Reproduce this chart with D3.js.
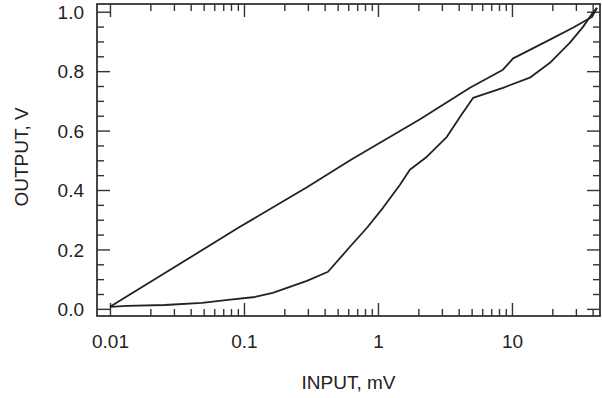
<!DOCTYPE html>
<html>
<head>
<meta charset="utf-8">
<script src="https://cdn.jsdelivr.net/npm/d3@7"></script>
<style>
  body { margin: 0; background: #fff; }
  svg text { font-family: "Liberation Sans", Arial, sans-serif; fill: #222; }
</style>
</head>
<body>
<svg id="chart" width="602" height="398"></svg>
<script>
// upward branch (near-linear in log x)
const upIn  = [0.01, 0.0933, 0.295, 0.629, 2.06, 4.86, 8.57, 10.2, 12.1, 19.2, 28.5, 36.3, 39.5, 43.1];
const upOut = [0.007, 0.276, 0.409, 0.502, 0.638, 0.744, 0.805, 0.843, 0.860, 0.906, 0.946, 0.973, 0.982, 1.013];

// lower branch
const loIn  = [0.01, 0.0134, 0.0257, 0.0486, 0.076, 0.121, 0.164, 0.295, 0.424, 0.618, 0.828, 1.09, 1.46, 1.73, 2.32, 3.27, 4.09, 5.12, 8.57, 13.6, 19.2, 27.1, 33.9, 40.2, 43.1];
const loOut = [0.007, 0.010, 0.013, 0.020, 0.030, 0.040, 0.054, 0.094, 0.125, 0.209, 0.273, 0.340, 0.418, 0.468, 0.512, 0.579, 0.646, 0.710, 0.744, 0.778, 0.828, 0.896, 0.949, 0.997, 1.013];

const xTicks = [0.01, 0.1, 1, 10];
const xTickLabels = ["0.01", "0.1", "1", "10"];
const yTicks = [0, 0.2, 0.4, 0.6, 0.8, 1.0];
const yTickLabels = ["0.0", "0.2", "0.4", "0.6", "0.8", "1.0"];

const svg = d3.select("#chart");
const mLeft = 97, mRight = 600, mTop = 4, mBottom = 316;

const x = d3.scaleLog().domain([0.008, 45.4]).range([mLeft, mRight]);
const y = d3.scaleLinear().domain([-0.024, 1.026]).range([mBottom, mTop]);

const xMinor = x.ticks().filter(d => d >= 0.01 && !xTicks.includes(d));
const yMinor = d3.range(0, 21).map(i => i * 0.05).filter(d => !yTicks.some(t => Math.abs(t - d) < 1e-6));

const major = 13, minor = 7;

function styleAxis(g) {
  g.select(".domain").remove();
  g.selectAll(".tick line").attr("stroke", "#333").attr("stroke-width", 1.4);
}

// bottom
svg.append("g").attr("transform", `translate(0,${mBottom})`)
  .call(d3.axisBottom(x).tickValues(xTicks).tickSize(-major)
    .tickFormat((d, i) => xTickLabels[i]))
  .call(styleAxis)
  .selectAll("text")
    .attr("y", 32).attr("dy", null)
    .style("font-size", "19px");
svg.append("g").attr("transform", `translate(0,${mBottom})`)
  .call(d3.axisBottom(x).tickValues(xMinor).tickSize(-minor).tickFormat(""))
  .call(styleAxis);
// top
svg.append("g").attr("transform", `translate(0,${mTop})`)
  .call(d3.axisTop(x).tickValues(xTicks).tickSize(-major).tickFormat(""))
  .call(styleAxis);
svg.append("g").attr("transform", `translate(0,${mTop})`)
  .call(d3.axisTop(x).tickValues(xMinor).tickSize(-minor).tickFormat(""))
  .call(styleAxis);
// left
svg.append("g").attr("transform", `translate(${mLeft},0)`)
  .call(d3.axisLeft(y).tickValues(yTicks).tickSize(-major)
    .tickFormat((d, i) => yTickLabels[i]))
  .call(styleAxis)
  .selectAll("text")
    .attr("x", -13).attr("dy", "0.36em")
    .style("font-size", "19px");
svg.append("g").attr("transform", `translate(${mLeft},0)`)
  .call(d3.axisLeft(y).tickValues(yMinor).tickSize(-minor).tickFormat(""))
  .call(styleAxis);
// right
svg.append("g").attr("transform", `translate(${mRight},0)`)
  .call(d3.axisRight(y).tickValues(yTicks).tickSize(-major).tickFormat(""))
  .call(styleAxis);
svg.append("g").attr("transform", `translate(${mRight},0)`)
  .call(d3.axisRight(y).tickValues(yMinor).tickSize(-minor).tickFormat(""))
  .call(styleAxis);

// frame
svg.append("rect")
  .attr("x", mLeft).attr("y", mTop)
  .attr("width", mRight - mLeft).attr("height", mBottom - mTop)
  .attr("fill", "none").attr("stroke", "#333").attr("stroke-width", 1.8);

// curves
const line = d3.line().x(d => x(d[0])).y(d => y(d[1]));
[[upIn, upOut], [loIn, loOut]].forEach(([xs, ys]) => {
  svg.append("path")
    .datum(xs.map((v, i) => [v, ys[i]]))
    .attr("d", line)
    .attr("fill", "none")
    .attr("stroke", "#222")
    .attr("stroke-width", 1.8)
    .attr("stroke-linejoin", "round");
});

// axis titles
svg.append("text")
  .attr("x", (mLeft + mRight) / 2).attr("y", 389)
  .attr("text-anchor", "middle").style("font-size", "19px")
  .text("INPUT, mV");
svg.append("text")
  .attr("transform", `translate(28,${(mTop + mBottom) / 2 - 3}) rotate(-90)`)
  .attr("text-anchor", "middle").style("font-size", "19px")
  .text("OUTPUT, V");
</script>
</body>
</html>
